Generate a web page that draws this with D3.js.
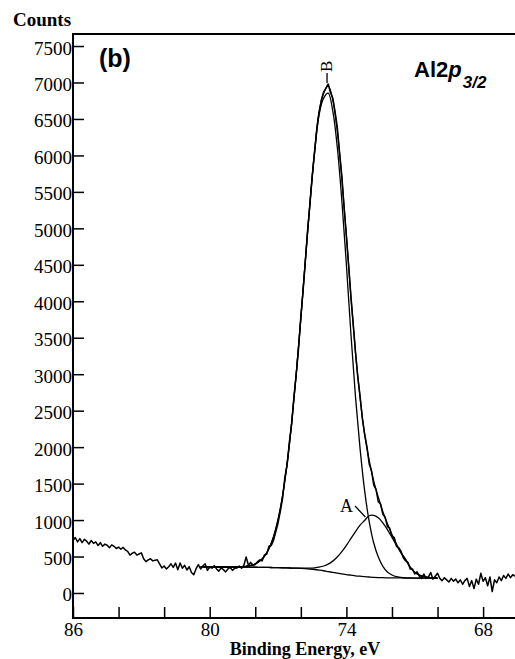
<!DOCTYPE html>
<html>
<head>
<meta charset="utf-8">
<script src="https://cdn.jsdelivr.net/npm/d3@7"></script>
<style>
  body { margin: 0; background: #fff; }
  svg { display: block; }
</style>
</head>
<body>
<svg id="chart" width="515" height="659"></svg>
<script>
// raw spectrum: 0.1 eV steps, 86.0 eV down to 66.6 eV
const rawStart = 86.0, rawStep = 0.1;
const rawCounts = [
  720, 760, 700, 745, 690, 735, 710, 670, 720, 680,
  700, 650, 690, 640, 670, 655, 620, 660, 640, 610,
  630, 600, 625, 590, 570, 520, 545, 560, 520, 535,
  550, 470, 430, 455, 470, 440, 450, 455, 400, 343,
  370, 330, 360, 400, 350, 410, 320, 411, 340, 380,
  315, 360, 280, 250, 330, 390, 330, 370, 400, 310,
  355, 340, 375, 330, 300, 345, 320, 290, 330, 350,
  310, 340, 343, 370, 340, 380, 494, 380, 420, 380,
  390, 430, 455, 440, 520, 530, 640, 650, 720, 840,
  960, 1120, 1300, 1590, 1760, 2080, 2330, 2700, 3010, 3350,
  3790, 4150, 4560, 4990, 5330, 5720, 6030, 6350, 6580, 6760,
  6870, 6920, 6980, 6860, 6790, 6600, 6390, 6040, 5720, 5280,
  4890, 4490, 4060, 3690, 3300, 2960, 2700, 2390, 2180, 2010,
  1770, 1680, 1480, 1420, 1250, 1220, 1080, 1040, 910, 890,
  770, 760, 640, 620, 570, 480, 440, 420, 330, 330,
  260, 290, 230, 200, 260, 200, 220, 280, 190, 230,
  270, 200, 170, 210, 180, 150, 200, 160, 190, 140,
  180, 120, 170, 200, 90, 170, 60, 190, 120, 270,
  160, 210, 100, 220, 20, 180, 140, 220, 170, 240,
  200, 260, 210, 250, 230
];

// fit: 0.2 eV steps, 80.4 eV down to 70.0 eV
const fitStart = 80.4, fitStep = 0.2;
const background = [
  357, 357, 357, 356, 356, 356, 356, 355, 355, 354,
  354, 353, 353, 352, 351, 350, 349, 347, 346, 344,
  342, 340, 337, 333, 328, 322, 314, 305, 294, 283,
  272, 262, 252, 244, 236, 230, 224, 219, 215, 212,
  210, 208, 207, 206, 206, 205, 205, 205, 205, 205,
  205, 205, 205
];
// components above background
const peakB = [
  0, 0, 0, 0, 0, 0, 0, 1, 3, 6,
  12, 24, 47, 86, 151, 257, 420, 658, 990, 1436,
  1997, 2670, 3427, 4229, 5012, 5709, 6245, 6480, 6560, 6330,
  5840, 5120, 4250, 3300, 2450, 1750, 1180, 760, 470, 280,
  155, 80, 40, 18, 8, 3, 1, 0, 0, 0,
  0, 0, 0
];
const peakA = [
  0, 0, 0, 0, 0, 0, 0, 0, 0, 0,
  0, 0, 0, 0, 0, 0, 0, 0, 0, 0,
  0, 0, 3, 7, 13, 23, 40, 65, 102, 154,
  221, 304, 400, 504, 607, 700, 771, 840, 850, 820,
  750, 660, 555, 445, 341, 252, 150, 80, 40, 18,
  8, 3, 0
];

const xTicks = [86, 84, 82, 80, 78, 76, 74, 72, 70, 68];
const xLabels = [86, 80, 74, 68];
const yTicks = [0, 500, 1000, 1500, 2000, 2500, 3000, 3500, 4000, 4500, 5000, 5500, 6000, 6500, 7000, 7500];

const serif = "'Liberation Serif', 'Times New Roman', serif";
const sans = "'Liberation Sans', Arial, sans-serif";

const svg = d3.select("#chart");
const plotLeft = 73, plotRight = 515, plotTop = 34, plotBottom = 618;

const x = d3.scaleLinear().domain([86, 66.6]).range([plotLeft, plotRight]);
const y = d3.scaleLinear().domain([-343, 7665]).range([plotBottom, plotTop]);

const raw = rawCounts.map((c, i) => ({ e: rawStart - i * rawStep, c: c }));
const fit = background.map((b, i) => ({
  e: fitStart - i * fitStep,
  bg: b,
  b: b + peakB[i],
  a: b + peakA[i],
  sum: b + peakB[i] + peakA[i]
}));

svg.append("clipPath").attr("id", "plotClip")
  .append("rect").attr("x", plotLeft).attr("y", plotTop)
  .attr("width", plotRight - plotLeft).attr("height", plotBottom - plotTop);

const plot = svg.append("g").attr("clip-path", "url(#plotClip)");

plot.append("path")
  .datum(raw)
  .attr("fill", "none")
  .attr("stroke", "#000")
  .attr("stroke-width", 1.5)
  .attr("stroke-linejoin", "round")
  .attr("d", d3.line().x(d => x(d.e)).y(d => y(d.c)));

["sum", "b", "a", "bg"].forEach(key => {
  plot.append("path")
    .datum(fit)
    .attr("fill", "none")
    .attr("stroke", "#000")
    .attr("stroke-width", 1.3)
    .attr("d", d3.line().curve(d3.curveCatmullRom).x(d => x(d.e)).y(d => y(d[key])));
});

// axes
const yAxis = svg.append("g")
  .attr("transform", `translate(${plotLeft},0)`)
  .call(d3.axisLeft(y).tickValues(yTicks).tickSize(-11).tickPadding(1).tickFormat(d3.format("d")));
yAxis.select(".domain").remove();
yAxis.selectAll("line").attr("stroke-width", 1.5);
yAxis.selectAll("text")
  .attr("font-family", serif).attr("font-size", 19).attr("dy", "0.42em").attr("fill", "#000");

const xAxis = svg.append("g")
  .attr("transform", `translate(0,${plotBottom})`)
  .call(d3.axisBottom(x).tickValues(xTicks).tickSize(-11).tickPadding(5)
    .tickFormat(d => xLabels.includes(d) ? d : ""));
xAxis.select(".domain").remove();
xAxis.selectAll("line").attr("stroke-width", 1.5);
xAxis.selectAll("text")
  .attr("font-family", serif).attr("font-size", 19).attr("fill", "#000");

// frame
svg.append("path")
  .attr("d", `M${plotRight},${plotTop}H${plotLeft}V${plotBottom}H${plotRight}`)
  .attr("fill", "none")
  .attr("stroke", "#000")
  .attr("stroke-width", 2);

// titles
svg.append("text")
  .attr("x", 13).attr("y", 26)
  .attr("font-family", serif).attr("font-weight", "bold").attr("font-size", 19)
  .text("Counts");

svg.append("text")
  .attr("x", 305).attr("y", 655)
  .attr("text-anchor", "middle")
  .attr("font-family", serif).attr("font-weight", "bold").attr("font-size", 18)
  .text("Binding Energy, eV");

svg.append("text")
  .attr("x", 99).attr("y", 67)
  .attr("font-family", sans).attr("font-weight", "bold").attr("font-size", 25)
  .text("(b)");

const lineTitle = svg.append("text")
  .attr("x", 414).attr("y", 77)
  .attr("font-family", sans).attr("font-weight", "bold").attr("font-size", 22);
lineTitle.append("tspan").text("Al2");
lineTitle.append("tspan").attr("font-style", "italic").text("p");
lineTitle.append("tspan").attr("font-style", "italic").attr("font-size", 17)
  .attr("dx", 1).attr("dy", 11).text("3/2");

// peak labels
const peakBE = 74.85, peakAE = 72.86;
svg.append("text")
  .attr("transform", `translate(${x(peakBE) + 5},72) rotate(-90)`)
  .attr("font-family", serif).attr("font-size", 17)
  .text("B");
svg.append("line")
  .attr("x1", x(peakBE)).attr("x2", x(peakBE))
  .attr("y1", 73).attr("y2", 83)
  .attr("stroke", "#000").attr("stroke-width", 1.3);

svg.append("text")
  .attr("x", 340).attr("y", 512)
  .attr("font-family", serif).attr("font-size", 18)
  .text("A");
svg.append("line")
  .attr("x1", 355).attr("y1", 506)
  .attr("x2", x(peakAE) - 7).attr("y2", 517)
  .attr("stroke", "#000").attr("stroke-width", 1.3);
</script>
</body>
</html>
